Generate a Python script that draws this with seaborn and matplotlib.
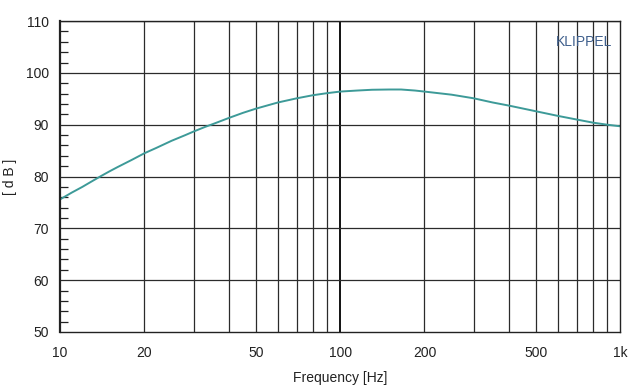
import numpy as np
import pandas as pd
import matplotlib
matplotlib.use("Agg")
import matplotlib.pyplot as plt
import seaborn as sns
from matplotlib.ticker import FixedLocator, MultipleLocator

# -------------------------------
# Data
# -------------------------------
freq_hz = [10, 11, 12, 13, 14, 15, 16, 18, 20, 22, 25, 28, 30, 33, 35, 40,
           45, 50, 60, 70, 80, 90, 100, 115, 130, 150, 165, 185, 200, 250,
           300, 350, 400, 500, 600, 700, 800, 900, 1000]
spl_db = [75.6, 76.9, 78.0, 79.1, 80.1, 81.0, 81.8, 83.2, 84.5, 85.5, 86.9,
          88.0, 88.7, 89.6, 90.1, 91.3, 92.3, 93.1, 94.3, 95.1, 95.7, 96.1,
          96.4, 96.6, 96.75, 96.8, 96.8, 96.6, 96.4, 95.8, 95.1, 94.3, 93.7,
          92.6, 91.7, 91.0, 90.4, 90.0, 89.7]

x_ticks = [10, 20, 50, 100, 200, 500, 1000]
x_tick_labels = ["10", "20", "50", "100", "200", "500", "1k"]
y_ticks = [50, 60, 70, 80, 90, 100, 110]

sns.set_theme(style="white")
plt.rcParams["font.family"] = ["Liberation Sans", "DejaVu Sans"]

df = pd.DataFrame({"freq": freq_hz, "spl": spl_db})

fig = plt.figure(figsize=(6.4, 3.91), dpi=100)
ax = fig.add_axes([0.094, 0.151, 0.875, 0.795])

sns.lineplot(data=df, x="freq", y="spl", ax=ax, color="#3d9a98", linewidth=1.4)

ax.set_xscale("log")
ax.set_xlim(10, 1000)
ax.set_ylim(50, 110)

# grid: every 1-2-...-9 on x, every 10 dB on y
grid_x = [m * 10 ** d for d in (1, 2) for m in range(2, 10)]
for gx in grid_x:
    ax.axvline(gx, color="#2b2b2b", linewidth=0.9, zorder=1)
ax.axvline(100, color="#111111", linewidth=1.4, zorder=1)
for gy in y_ticks[1:]:
    ax.axhline(gy, color="#2b2b2b", linewidth=0.9, zorder=1)

ax.xaxis.set_major_locator(FixedLocator(x_ticks))
ax.set_xticklabels(x_tick_labels)
ax.xaxis.set_minor_locator(FixedLocator([]))
ax.set_yticks(y_ticks)
ax.yaxis.set_minor_locator(MultipleLocator(2))

ax.tick_params(axis="x", which="major", length=0, pad=10, labelsize=10,
               labelcolor="#222222")
ax.tick_params(axis="y", which="major", direction="out", length=5, width=0.9,
               color="#222222", pad=3, labelsize=10, labelcolor="#222222")
ax.tick_params(axis="y", which="minor", direction="in", length=6, width=0.9,
               color="#222222", left=True)

for side, sp in ax.spines.items():
    sp.set_color("#222222")
    sp.set_linewidth(1.0)
ax.spines["left"].set_linewidth(1.6)

ax.set_xlabel("Frequency [Hz]", fontsize=10, color="#222222", labelpad=8)
ax.set_ylabel("[ d B ]", fontsize=10, color="#222222")
ax.yaxis.set_label_coords(-0.077, 0.5)

ax.text(0.985, 0.955, "KLIPPEL", transform=ax.transAxes, ha="right", va="top",
        fontsize=10, color="#3f5f8c")

fig.savefig("out.png", dpi=100)
